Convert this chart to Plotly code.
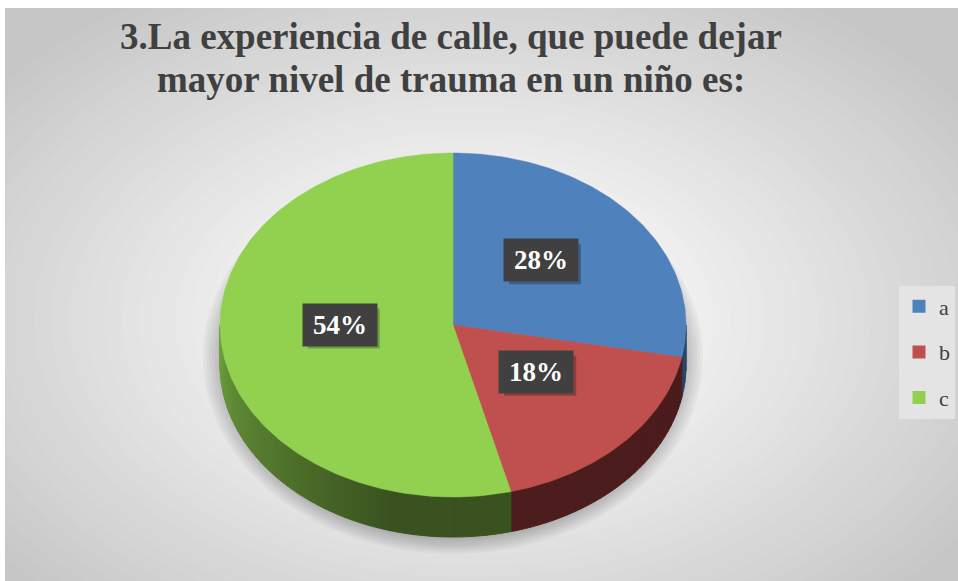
import numpy as np
import plotly.graph_objects as go

# ---------------- data ----------------
categories = ["a", "b", "c"]
values = [28, 18, 54]
label_texts = [f"{v}%" for v in values]
title_lines = ["3.La experiencia de calle, que puede dejar",
               "mayor nivel de trauma en un niño es:"]

# ---------------- style ----------------
top_colors = ["#4F81BD", "#C0504D", "#92D050"]
side_dark = ["#2A4568", "#4B1C1C", "#3A5220"]
side_light = ["#3A5E8C", "#5A2424", "#6C9E3B"]
W, H = 958, 581
CX, CY, RX, RY, DEPTH = 453, 325, 233, 172, 40
SERIF = "Liberation Serif, Times New Roman, serif"
BOX_W, BOX_H = 72, 40


def pt(theta_deg, frac=1.0, dy=0.0):
    t = np.radians(theta_deg)
    return CX + RX * frac * np.sin(t), CY - RY * frac * np.cos(t) + dy


def hexmix(c1, c2, f):
    f = min(max(f, 0.0), 1.0)
    a = [int(c1[i:i + 2], 16) for i in (1, 3, 5)]
    b = [int(c2[i:i + 2], 16) for i in (1, 3, 5)]
    return "#" + "".join(f"{int(round(a[k] + (b[k] - a[k]) * f)):02X}" for k in range(3))


fig = go.Figure()

total = sum(values)
cum = np.concatenate([[0], np.cumsum(values)]) / total * 360.0

# ---------- side walls (front half only) ----------
for i in range(len(values)):
    lo, hi = max(cum[i], 90.0), min(cum[i + 1], 270.0)
    if lo >= hi:
        continue
    edges = np.arange(lo, hi, 2.0).tolist() + [hi]
    for a0, a1 in zip(edges[:-1], edges[1:]):
        mid = (a0 + a1) / 2
        f = (mid - 195.0) / 75.0 if i == 2 else (mid - 90.0) / 180.0 * 0.3
        col = hexmix(side_dark[i], side_light[i], f)
        xs_top, ys_top = pt(np.array([a0, a1]))
        xs_bot, ys_bot = pt(np.array([a1, a0]), dy=DEPTH)
        fig.add_trace(go.Scatter(
            x=list(xs_top) + list(xs_bot) + [xs_top[0]],
            y=list(ys_top) + list(ys_bot) + [ys_top[0]],
            mode="lines", fill="toself", fillcolor=col,
            line=dict(color=col, width=1),
            hoverinfo="skip", showlegend=False))

# ---------- top faces ----------
for i in range(len(values)):
    arc = np.linspace(cum[i], cum[i + 1], max(int(cum[i + 1] - cum[i]) + 2, 3))
    ax, ay = pt(arc)
    fig.add_trace(go.Scatter(
        x=[CX] + list(ax) + [CX], y=[CY] + list(ay) + [CY],
        mode="lines", fill="toself", fillcolor=top_colors[i],
        line=dict(color=top_colors[i], width=0.5),
        name=categories[i], hoverinfo="name", showlegend=False))

# ---------- legend entries ----------
for i, c in enumerate(categories):
    fig.add_trace(go.Scatter(
        x=[None], y=[None], mode="markers", name=c, legendgroup=c,
        marker=dict(symbol="square", size=13, color=top_colors[i])))

shapes = []
annotations = []

# ---------- labels ----------
for i in range(len(values)):
    mid = (cum[i] + cum[i + 1]) / 2
    lx, ly = pt(mid, frac=0.49, dy=-11)
    shapes.append(dict(type="rect", xref="x", yref="y", layer="above",
                       x0=lx - BOX_W / 2 + 4, x1=lx + BOX_W / 2 + 4,
                       y0=ly - BOX_H / 2 + 4, y1=ly + BOX_H / 2 + 4,
                       fillcolor="rgba(0,0,0,0.25)", line=dict(width=0)))
    annotations.append(dict(
        x=lx, y=ly, xref="x", yref="y", text=f"<b>{label_texts[i]}</b>",
        showarrow=False, width=BOX_W, height=BOX_H, bgcolor="#404040",
        font=dict(family=SERIF, size=27, color="white")))

# ---------- title ----------
for line, yy in zip(title_lines, [36, 79]):
    annotations.append(dict(
        x=451, y=yy, xref="x", yref="y", text=f"<b>{line}</b>", showarrow=False,
        font=dict(family=SERIF, size=37, color="#404040")))

# ---------- background shapes ----------
bg = []
GX, GY, GRX, GRY = 470, 320, 560, 360
for r in np.linspace(1.5, 0.12, 45):
    col = hexmix("#FFFFFF", "#C6C6C6", (r - 0.15) / 0.95)
    bg.append(dict(type="circle", xref="x", yref="y", layer="below",
                   x0=GX - GRX * r, x1=GX + GRX * r,
                   y0=GY - GRY * r, y1=GY + GRY * r,
                   fillcolor=col, line=dict(width=0)))
# pie shadow
for k in range(8):
    s = 1.0 - k * 0.012
    bg.append(dict(type="circle", xref="x", yref="y", layer="below",
                   x0=CX - 250 * s, x1=CX + 250 * s,
                   y0=CY + 32 - 197 * s, y1=CY + 32 + 197 * s,
                   fillcolor="rgba(0,0,0,0.035)", line=dict(width=0)))
# white frame strips (top and left)
bg.append(dict(type="rect", xref="x", yref="y", layer="below",
               x0=-5, x1=W + 5, y0=-5, y1=8, fillcolor="white", line=dict(width=0)))
bg.append(dict(type="rect", xref="x", yref="y", layer="below",
               x0=-5, x1=5, y0=-5, y1=H + 5, fillcolor="white", line=dict(width=0)))

fig.update_layout(
    width=W, height=H, margin=dict(l=0, r=0, t=0, b=0, autoexpand=False),
    paper_bgcolor="#C6C6C6", plot_bgcolor="rgba(0,0,0,0)",
    xaxis=dict(range=[0, W], visible=False, fixedrange=True),
    yaxis=dict(range=[H, 0], visible=False, fixedrange=True),
    shapes=bg + shapes, annotations=annotations,
    showlegend=True,
    legend=dict(x=1 - 3 / W, xanchor="right", y=1 - 352 / H, yanchor="middle",
                bgcolor="#E4E4E4", font=dict(family=SERIF, size=22, color="#404040"),
                tracegroupgap=14, itemwidth=30),
)

fig.write_html(
    "out.html",
    config={"displayModeBar": False},
    post_script="document.body.style.margin='0';document.body.style.overflow='hidden';",
)
